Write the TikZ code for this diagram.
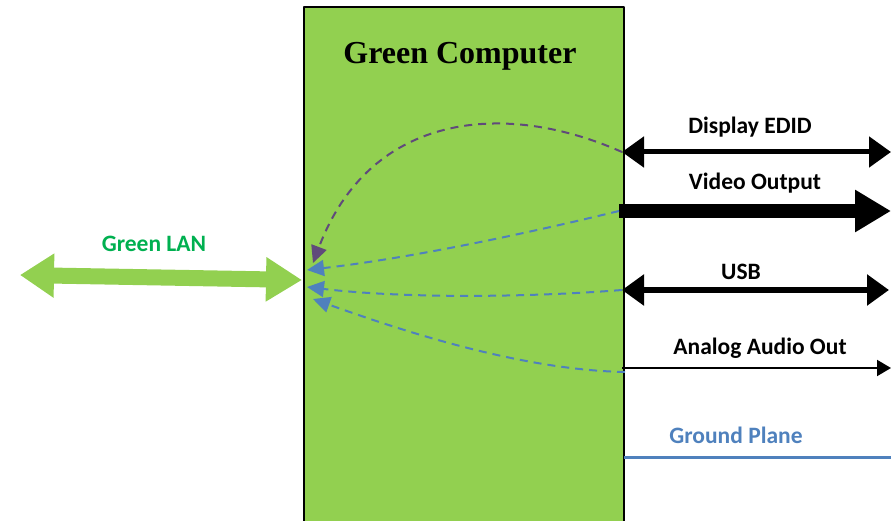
\documentclass[tikz,border=0pt]{standalone}
\usepackage{fontspec}
\setmainfont{Liberation Serif}
\newfontfamily\calib{Carlito}
\usetikzlibrary{arrows.meta,positioning,calc}
\definecolor{boxgreen}{HTML}{92D050}
\definecolor{langreen}{HTML}{00B050}
\definecolor{sigblue}{HTML}{4F81BD}
\definecolor{sigpurple}{HTML}{604A7B}
\tikzset{
  siglabel/.style={font=\calib\bfseries\fontsize{23.5}{25}\selectfont, inner sep=0pt},
  sigpath/.style={dashed, dash pattern=on 8pt off 6pt, line width=2pt, -{Triangle[length=17pt,width=16pt]}}
}
\begin{document}
\begin{tikzpicture}[x=1pt, y=-1pt, line join=round]
\useasboundingbox (0,0) rectangle (891,521);
% computer box
\fill[boxgreen] (304,7) rectangle (624,521);
\draw[line width=2pt] (304,521)--(304,7)--(624,7)--(624,521);
\node[font=\bfseries\fontsize{32}{35}\selectfont] (title) at (460,56) {Green Computer};
% green LAN
\coordinate (lan1) at (20,275);
\coordinate (lan2) at (302,280);
\draw[boxgreen, line width=16pt, {Triangle[length=34pt,width=42pt]}-{Triangle[length=36pt,width=42pt]}] (lan1)--(lan2);
\node[siglabel, text=langreen] (lanlab) at (154,244) {Green LAN};
% signals on the right
\coordinate (edid1) at (622,152);  \coordinate (edid2) at (891,152);
\coordinate (vid1) at (619,211);   \coordinate (vid2) at (891,211);
\coordinate (usb1) at (622,290);   \coordinate (usb2) at (889,290);
\coordinate (aud1) at (622,368);   \coordinate (aud2) at (891,368);
\coordinate (gnd1) at (624,457);   \coordinate (gnd2) at (891,457);
\draw[line width=5pt, {Triangle[length=22pt,width=30pt]}-{Triangle[length=22pt,width=30pt]}] (edid1)--(edid2);
\draw[line width=14pt, -{Triangle[length=36pt,width=40pt]}] (vid1)--(vid2);
\draw[line width=6pt, {Triangle[length=22pt,width=30pt]}-{Triangle[length=22pt,width=30pt]}] (usb1)--(usb2);
\draw[line width=2pt, -{Triangle[length=14pt,width=16pt]}] (aud1)--(aud2);
\draw[sigblue, line width=3pt] (gnd1)--(gnd2);
\node[siglabel] (edidlab) at (750,127) {Display EDID};
\node[siglabel] (vidlab) at (755,183) {Video Output};
\node[siglabel] (usblab) at (741,272) {USB};
\node[siglabel] (audlab) at (760,348) {Analog Audio Out};
\node[siglabel, text=sigblue] (gndlab) at (736,435) {Ground Plane};
% dashed paths into the computer
\coordinate (in1) at (313,263);
\coordinate (in2) at (307,270);
\coordinate (in3) at (307,287);
\coordinate (in4) at (313,299);
\draw[sigpath, sigpurple] (edid1) .. controls (505,100) and (370,112) .. (in1);
\draw[sigpath, sigblue] (vid1) .. controls (520,235) and (410,258) .. (in2);
\draw[sigpath, sigblue] (usb1) .. controls (520,298) and (400,298) .. (in3);
\draw[sigpath, sigblue] ($(aud1)+(3,4)$) .. controls (520,370) and (400,330) .. (in4);
\end{tikzpicture}
\end{document}
